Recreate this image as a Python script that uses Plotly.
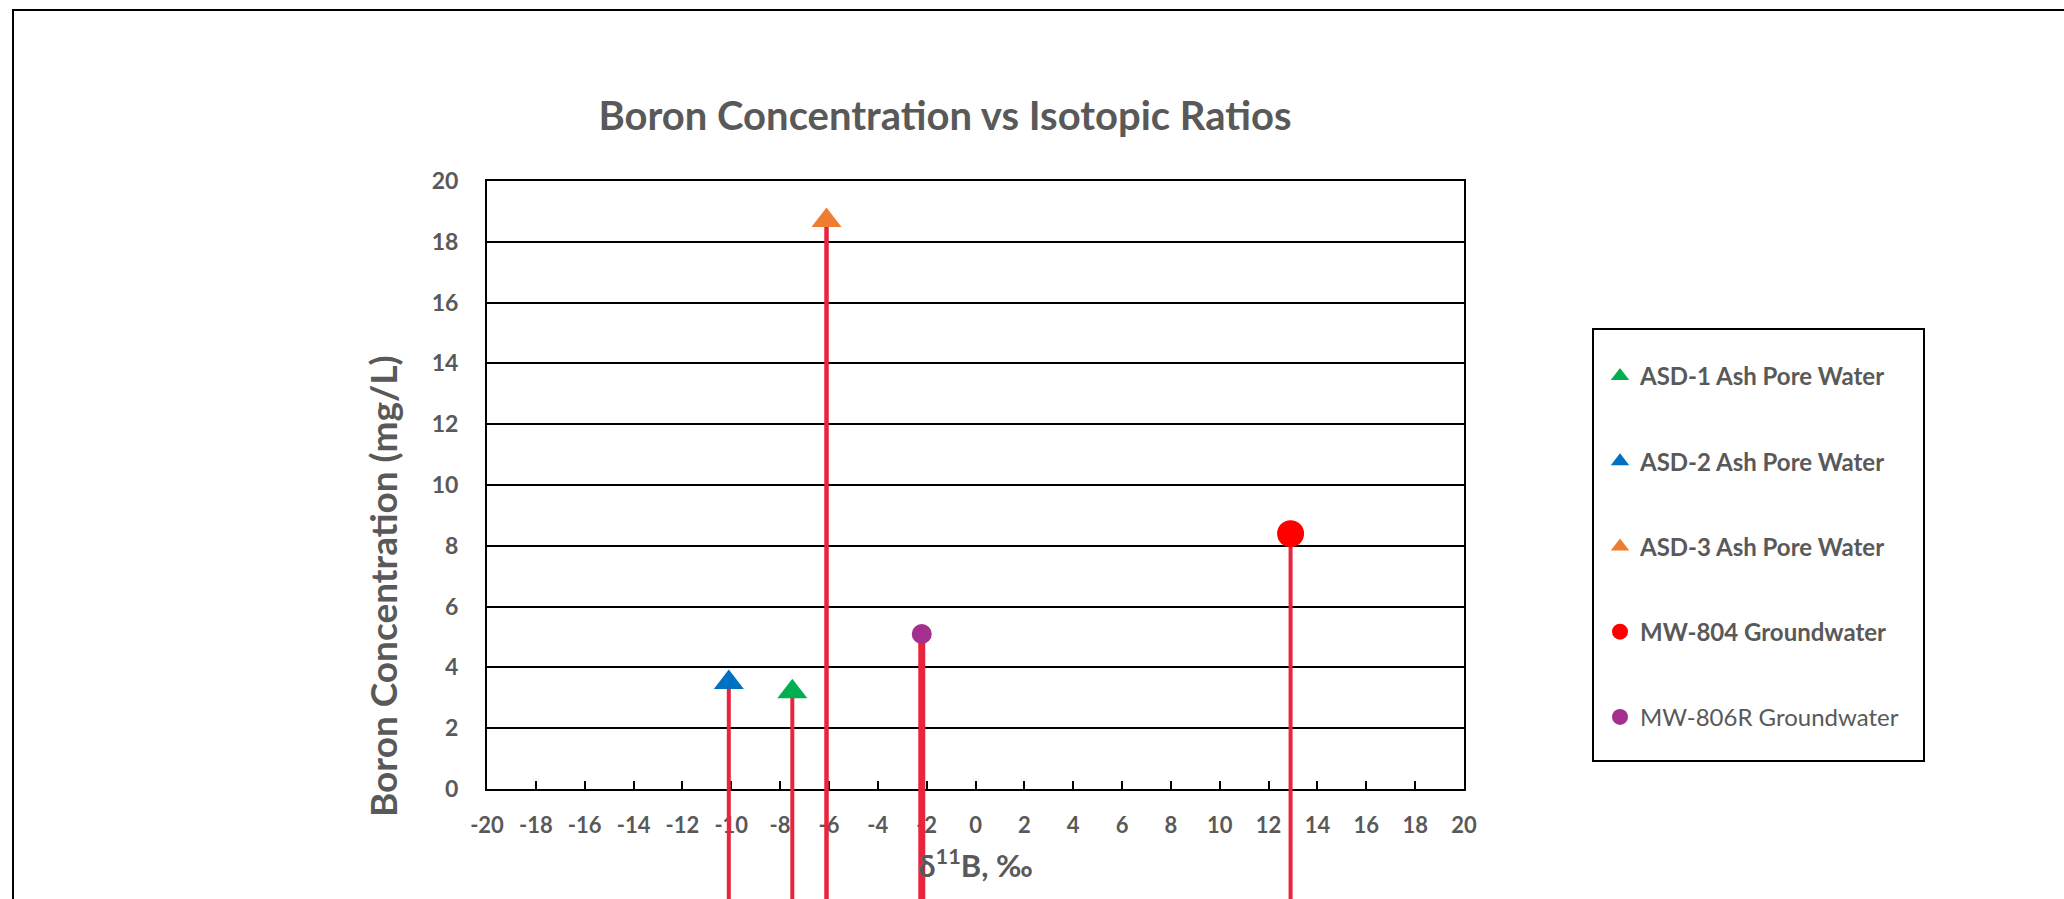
import plotly.graph_objects as go

# ---- data ----
series_names = ["ASD-1 Ash Pore Water", "ASD-2 Ash Pore Water", "ASD-3 Ash Pore Water",
                "MW-804 Groundwater", "MW-806R Groundwater"]
delta11B = [-7.5, -10.1, -6.1, 12.9, -2.2]          # δ11B, ‰
boron = [3.2, 3.5, 18.7, 8.4, 5.1]                   # mg/L
symbols = ["triangle-up", "triangle-up", "triangle-up", "circle", "circle"]
colors = ["#00B050", "#0070C0", "#ED7D31", "#FF0000", "#A3308E"]
marker_sizes = [26, 26, 26, 27, 20]
stem_widths = [4, 4, 4.5, 4, 7]
bold_label = [True, True, True, True, False]
x_ticks = list(range(-20, 21, 2))
y_ticks = list(range(0, 21, 2))
y_range = [0, 20]

STEM_COLOR = "#E8253C"
FONT = "Lato"
GREY = "#595959"

W, H = 2064, 899
L, R, T = 487, 600, 181
AXIS_BOTTOM_PX = 789          # pixel row of the x axis (y = 0)
pw = W - L - R
ph_full = H - T               # paper height (bottom margin 0)
ph_plot = AXIS_BOTTOM_PX - T  # height of the visible 0..20 plot box

def px_x(px):
    return (px - L) / pw

def px_y(py):
    return (H - py) / ph_full

# the stems continue below the axis to the bottom of the chart: a second, hidden
# y axis shares the same scale but reaches down to the bottom edge
units_per_px = (y_range[1] - y_range[0]) / ph_plot
y2_min = y_range[0] - (H - AXIS_BOTTOM_PX) * units_per_px

fig = go.Figure()
# anchor trace for the visible axes (points drawn on the overlay below)
fig.add_trace(go.Scatter(
    x=delta11B, y=boron, mode="markers", xaxis="x", yaxis="y",
    marker=dict(opacity=0), showlegend=False, hoverinfo="skip",
))
for name, x, y, sym, col, ms, sw, b in zip(series_names, delta11B, boron, symbols,
                                         colors, marker_sizes, stem_widths, bold_label):
    fig.add_trace(go.Scatter(
        x=[x], y=[y], mode="markers", xaxis="x2", yaxis="y2",
        name=f"<b>{name}</b>" if b else name,
        legendgroup=name,
        marker=dict(symbol=sym, color=col, size=ms, line=dict(width=0)),
        error_y=dict(type="data", symmetric=False, array=[0], arrayminus=[y - y2_min],
                     color=STEM_COLOR, thickness=sw, width=0),
    ))

fig.update_layout(
    width=W, height=H,
    margin=dict(l=L, r=R, t=T, b=0, autoexpand=False),
    paper_bgcolor="white", plot_bgcolor="rgba(0,0,0,0)",
    font=dict(family=FONT, color=GREY),
    title=dict(text="<b>Boron Concentration vs Isotopic Ratios</b>",
               font=dict(family=FONT, size=40, color=GREY),
               x=945 / W, xanchor="center", xref="container",
               y=1 - 116 / H, yanchor="middle", yref="container"),
    showlegend=True,
    legend=dict(x=px_x(1600), y=px_y(354), xanchor="left", yanchor="top",
                borderwidth=0, bgcolor="rgba(0,0,0,0)",
                font=dict(family=FONT, size=24, color=GREY),
                tracegroupgap=51, itemwidth=30, traceorder="grouped"),
    xaxis=dict(
        domain=[0, 1], anchor="y",
        range=[-20, 20], tickvals=x_ticks, ticktext=[str(v) for v in x_ticks],
        showgrid=False, zeroline=False,
        showline=True, linecolor="black", linewidth=2, mirror=True,
        ticks="inside", ticklen=8, tickwidth=1.5, tickcolor="black",
        tickfont=dict(family=FONT, size=22, color=GREY, weight="bold"),
        ticklabelstandoff=16,
        title=dict(text="<b>δ<sup>11</sup>B, ‰</b>", font=dict(family=FONT, size=31, color=GREY),
                   standoff=18),
    ),
    yaxis=dict(
        domain=[(H - AXIS_BOTTOM_PX) / ph_full, 1], anchor="x",
        range=y_range, tickvals=y_ticks, ticktext=[str(v) for v in y_ticks],
        showgrid=True, gridcolor="black", gridwidth=1.5, zeroline=False,
        showline=True, linecolor="black", linewidth=2, mirror=True,
        ticks="", tickfont=dict(family=FONT, size=23, color=GREY, weight="bold"),
        ticklabelstandoff=22,
    ),
    xaxis2=dict(domain=[0, 1], anchor="y2", matches="x", visible=False),
    yaxis2=dict(domain=[0, 1], anchor="x2", range=[y2_min, y_range[1]], visible=False),
)

fig.add_annotation(
    text="<b>Boron Concentration (mg/L)</b>", textangle=-90,
    xref="paper", yref="paper", x=px_x(382), y=px_y(586),
    xanchor="center", yanchor="middle", showarrow=False,
    font=dict(family=FONT, size=37, color=GREY),
)

# legend frame
fig.add_shape(type="rect", xref="paper", yref="paper",
              x0=px_x(1593), x1=px_x(1924), y0=px_y(761), y1=px_y(329),
              line=dict(color="black", width=2), fillcolor="rgba(0,0,0,0)", layer="below")

# outer chart-area frame (extends beyond the visible crop on the right and bottom)
fig.add_shape(type="rect", xref="paper", yref="paper",
              x0=px_x(13), x1=px_x(W + 50), y0=px_y(H + 50), y1=px_y(10),
              line=dict(color="black", width=2), fillcolor="rgba(0,0,0,0)", layer="below")

fig.write_html("out.html")
